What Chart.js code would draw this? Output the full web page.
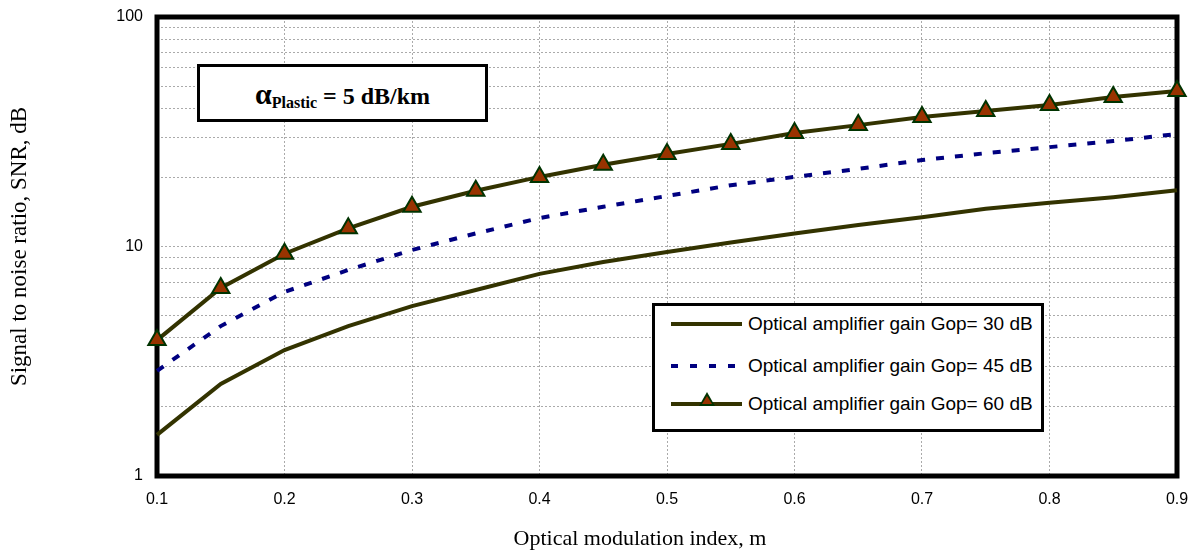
<!DOCTYPE html>
<html>
<head>
<meta charset="utf-8">
<script src="https://cdn.jsdelivr.net/npm/chart.js@4.4.1/dist/chart.umd.min.js"></script>
<style>
    body { margin: 0; background: #fff; overflow: hidden; }
    #wrap { position: relative; width: 1189px; height: 551px; overflow: hidden; }
    #note {
        position: absolute; left: 197px; top: 64px; width: 285px; height: 52px;
        border: 3px solid #000; background: #fff;
        font-family: "Liberation Serif", "Times New Roman", serif; font-weight: bold;
        font-size: 24px; text-align: center; line-height: 54px;
    }
    #note .alpha { font-size: 30px; }
    #note sub { font-size: 16px; vertical-align: -4px; }
    #xtitle {
        position: absolute; left: 440px; width: 400px; top: 525px;
        text-align: center; font-family: "Liberation Serif", "Times New Roman", serif; font-size: 22px;
    }
    #legend {
        position: absolute; left: 652px; top: 303px; width: 386px; height: 123px;
        border: 3px solid #000; background: #fff;
        font-family: "Liberation Sans", Arial, sans-serif; font-size: 19px;
    }
    .row { position: absolute; left: 16px; height: 20px; display: flex; align-items: center; }
    .sample { position: relative; width: 71px; height: 4px; margin-right: 6px; }
    .solid { background: #333300; }
    .dash { background: repeating-linear-gradient(90deg, #000080 0 7px, transparent 7px 19px); }
    .tri {
        position: absolute; left: 28px; top: -10px; width: 0; height: 0;
        border-left: 8px solid transparent; border-right: 8px solid transparent;
        border-bottom: 14px solid #003300;
    }
    .tri::after {
        content: ""; position: absolute; left: -5px; top: 4px;
        border-left: 5px solid transparent; border-right: 5px solid transparent;
        border-bottom: 8px solid #993300;
    }
</style>
</head>
<body>
<div id="wrap">
    <canvas id="chart" width="1189" height="551"></canvas>
    <div id="note"><span class="alpha">α</span><sub>Plastic</sub> = 5 dB/km</div>
    <div id="xtitle">Optical modulation index, m</div>
    <div id="legend">
        <div class="row" style="top:8px"><div class="sample solid"></div>Optical amplifier gain Gop= 30 dB</div>
        <div class="row" style="top:50px"><div class="sample dash"></div>Optical amplifier gain Gop= 45 dB</div>
        <div class="row" style="top:88px"><div class="sample solid"><div class="tri"></div></div>Optical amplifier gain Gop= 60 dB</div>
    </div>
</div>
<script>
const mIndex = [0.1, 0.15, 0.2, 0.25, 0.3, 0.35, 0.4, 0.45, 0.5, 0.55, 0.6, 0.65, 0.7, 0.75, 0.8, 0.85, 0.9];
const snr30 = [1.51, 2.52, 3.54, 4.5, 5.5, 6.46, 7.6, 8.56, 9.47, 10.4, 11.4, 12.4, 13.4, 14.6, 15.5, 16.4, 17.6];
const snr45 = [2.87, 4.5, 6.34, 7.9, 9.66, 11.4, 13.3, 14.9, 16.6, 18.5, 20.1, 21.8, 23.8, 25.5, 27.1, 28.8, 30.9];
const snr60 = [3.91, 6.6, 9.3, 12.0, 14.9, 17.5, 20.1, 22.7, 25.3, 28.0, 31.2, 33.8, 36.7, 38.9, 41.4, 44.8, 47.6];
const seriesNames = ["Optical amplifier gain Gop= 30 dB", "Optical amplifier gain Gop= 45 dB", "Optical amplifier gain Gop= 60 dB"];
const yGrid = [1, 2, 3, 4, 5, 6, 7, 8, 9, 10, 20, 30, 40, 50, 60, 70, 80, 90, 100];
const yLabels = [1, 10, 100];

function pts(vals) {
    return mIndex.map((m, i) => ({ x: m, y: vals[i] }));
}

// thick box round the plot area, like the spreadsheet original
const frame = {
    id: "frame",
    beforeDatasetsDraw(chart) {
        const a = chart.chartArea;
        const ctx = chart.ctx;
        ctx.save();
        ctx.strokeStyle = "#000";
        ctx.lineWidth = 5;
        ctx.strokeRect(a.left, a.top, a.right - a.left, a.bottom - a.top);
        ctx.restore();
    }
};

// keep tick label overhang from pushing the plot area in
function noOverhang(scale) {
    scale.paddingLeft = 0;
    scale.paddingRight = 0;
    scale.paddingTop = 0;
    scale.paddingBottom = 0;
}

const tickFont = { family: "'Liberation Sans', Arial, sans-serif", size: 16 };

new Chart(document.getElementById("chart"), {
    type: "line",
    data: {
        datasets: [{
            label: seriesNames[0],
            data: pts(snr30),
            borderColor: "#333300",
            borderWidth: 4,
            pointRadius: 0,
            clip: false
        }, {
            label: seriesNames[1],
            data: pts(snr45),
            borderColor: "#000080",
            borderWidth: 4,
            borderDash: [8, 11],
            pointRadius: 0,
            clip: false
        }, {
            label: seriesNames[2],
            data: pts(snr60),
            borderColor: "#333300",
            borderWidth: 4,
            pointStyle: "triangle",
            pointRadius: 10,
            pointBackgroundColor: "#993300",
            pointBorderColor: "#003300",
            pointBorderWidth: 2,
            clip: false
        }]
    },
    options: {
        responsive: false,
        animation: false,
        layout: { padding: { top: 17, right: 12, left: 0, bottom: 0 } },
        plugins: {
            legend: { display: false },
            tooltip: { enabled: false }
        },
        scales: {
            x: {
                type: "linear",
                min: 0.1,
                max: 0.9,
                ticks: {
                    stepSize: 0.1,
                    color: "#000",
                    font: tickFont,
                    padding: 14,
                    callback: v => v.toFixed(1)
                },
                grid: { color: "#aaa", lineWidth: 1, drawTicks: false },
                border: { display: false, dash: [2, 2] },
                afterFit(scale) {
                    noOverhang(scale);
                    scale.height = 75;
                }
            },
            y: {
                type: "logarithmic",
                min: 1,
                max: 100,
                afterBuildTicks(scale) {
                    scale.ticks = yGrid.map(v => ({ value: v }));
                },
                ticks: {
                    color: "#000",
                    font: tickFont,
                    padding: 14,
                    autoSkip: false,
                    callback: v => (yLabels.includes(v) ? String(v) : "")
                },
                grid: { color: "#aaa", lineWidth: 1, drawTicks: false },
                border: { display: false, dash: [2, 2] },
                title: {
                    display: true,
                    text: "Signal to noise ratio, SNR, dB",
                    color: "#000",
                    font: { family: "'Liberation Serif', 'Times New Roman', serif", size: 23 },
                    padding: { top: 6, bottom: 0 }
                },
                afterFit(scale) {
                    noOverhang(scale);
                    scale.width = 157;
                }
            }
        }
    },
    plugins: [frame]
});
</script>
</body>
</html>
